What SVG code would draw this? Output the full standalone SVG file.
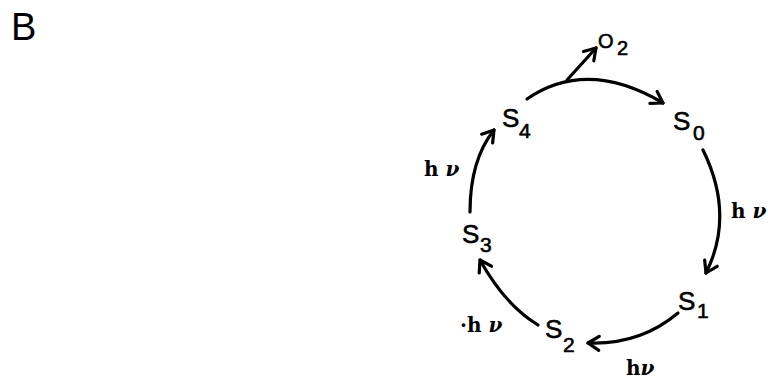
<svg xmlns="http://www.w3.org/2000/svg" width="768" height="381" viewBox="0 0 768 381">
<defs>
<style>
.lbl{font-family:"Liberation Sans",Arial,sans-serif;fill:#000;stroke:#000;stroke-width:0.6}
.s{font-size:26px}
.sub{font-size:21px}
.hv{font-family:"DejaVu Serif","Liberation Serif",serif;font-weight:bold;font-size:20px;fill:#000}
.c{fill:none;stroke:#000;stroke-width:3.2;stroke-linecap:round;marker-end:url(#ah)}
</style>
<marker id="ah" markerUnits="userSpaceOnUse" markerWidth="20" markerHeight="20" refX="0" refY="0" viewBox="-14 -10 18 20" orient="auto">
<path d="M-11,-7 L0,0 L-11,7" fill="none" stroke="#000" stroke-width="3.2" stroke-linecap="round" stroke-linejoin="round"/>
</marker>
</defs>
<rect width="768" height="381" fill="#fff"/>
<text x="11" y="40" font-size="38" font-family="Liberation Sans,Arial,sans-serif" fill="#000">B</text>
<g id="connectors">
<path class="c" d="M527,99 Q587,58 663,103"/>
<path class="c" d="M567,80 L596,48"/>
<path class="c" d="M703,150 Q735,215 706,273"/>
<path class="c" d="M678,313 Q640,345 588,343"/>
<path class="c" d="M538,325 Q505,305 480,260"/>
<path class="c" d="M470,212 Q470,160 494,130"/>
<text class="hv" x="424" y="176">h <tspan font-style="italic">ν</tspan></text>
<text class="hv" x="731" y="218">h <tspan font-style="italic">ν</tspan></text>
<text class="hv" x="626" y="375">h<tspan font-style="italic">ν</tspan></text>
<text class="hv" x="460" y="332">·h <tspan font-style="italic">ν</tspan></text>
</g>
<g id="S0"><text class="lbl s" x="673" y="130">S</text><text class="lbl sub" x="693" y="140">0</text></g>
<g id="S1"><text class="lbl s" x="678" y="310">S</text><text class="lbl sub" x="697" y="318">1</text></g>
<g id="S2"><text class="lbl s" x="545" y="338">S</text><text class="lbl sub" x="563" y="352">2</text></g>
<g id="S3"><text class="lbl s" x="462" y="243">S</text><text class="lbl sub" x="480" y="252">3</text></g>
<g id="S4"><text class="lbl s" x="502" y="127">S</text><text class="lbl sub" x="519" y="138">4</text></g>
<g id="O2"><text class="lbl" x="598" y="48" font-size="20">O</text><text class="lbl" x="617" y="55" font-size="20">2</text></g>
</svg>
